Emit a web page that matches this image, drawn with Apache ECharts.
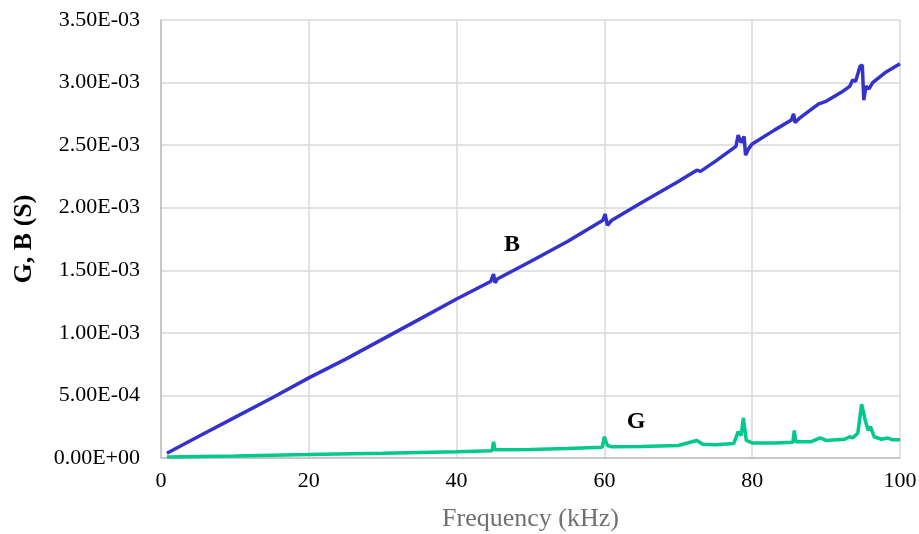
<!DOCTYPE html>
<html>
<head>
<meta charset="utf-8">
<script src="https://cdn.jsdelivr.net/npm/echarts@6/dist/echarts.min.js"></script>
<style>html,body{margin:0;padding:0;background:#fff;}#chart{width:919px;height:534px;}</style>
</head>
<body>
<div id="chart"></div>
<script>
// Frequency (kHz) and susceptance B (S)
var bFreq = [0.8, 5, 10, 15, 20, 22, 25, 30, 35, 40, 44.6, 45, 45.2, 45.5, 50, 55, 59.8, 60.1, 60.4, 61, 65, 70, 72.5, 73, 75, 77.8, 78.1, 78.5, 78.9, 79.1, 79.5, 80, 83, 85.3, 85.6, 85.8, 86.5, 89, 90, 92, 93.2, 93.6, 94, 94.6, 94.9, 95.1, 95.4, 95.8, 96.3, 98, 100];
var bVals = [3.8e-5, 1.7e-4, 3.25e-4, 4.8e-4, 6.4e-4, 7.0e-4, 7.9e-4, 9.5e-4, 1.11e-3, 1.27e-3, 1.41e-3, 1.47e-3, 1.40e-3, 1.43e-3, 1.57e-3, 1.73e-3, 1.90e-3, 1.95e-3, 1.86e-3, 1.90e-3, 2.04e-3, 2.21e-3, 2.30e-3, 2.29e-3, 2.37e-3, 2.49e-3, 2.58e-3, 2.52e-3, 2.57e-3, 2.42e-3, 2.47e-3, 2.51e-3, 2.62e-3, 2.70e-3, 2.75e-3, 2.68e-3, 2.72e-3, 2.83e-3, 2.85e-3, 2.92e-3, 2.97e-3, 3.02e-3, 3.01e-3, 3.13e-3, 3.14e-3, 2.86e-3, 2.97e-3, 2.95e-3, 3.00e-3, 3.08e-3, 3.15e-3];
// Frequency (kHz) and conductance G (S)
var gFreq = [0.8, 10, 20, 22, 30, 40, 44.8, 45, 45.2, 50, 55, 59.7, 60, 60.4, 61, 65, 70, 72.5, 73.3, 75, 77.5, 78.1, 78.5, 78.8, 79.2, 80, 83, 85.5, 85.7, 85.9, 88, 89.2, 90, 92.5, 93.2, 93.6, 94.3, 94.8, 95.3, 95.7, 96, 96.5, 97.5, 98.3, 99, 100];
var gVals = [8e-6, 1.6e-5, 2.7e-5, 3.0e-5, 3.7e-5, 5.0e-5, 5.8e-5, 1.3e-4, 6.5e-5, 6.8e-5, 7.5e-5, 8.5e-5, 1.7e-4, 1.0e-4, 9.0e-5, 9.2e-5, 1.0e-4, 1.4e-4, 1.1e-4, 1.05e-4, 1.15e-4, 2.1e-4, 1.8e-4, 3.2e-4, 1.4e-4, 1.2e-4, 1.2e-4, 1.25e-4, 2.2e-4, 1.3e-4, 1.3e-4, 1.6e-4, 1.4e-4, 1.5e-4, 1.7e-4, 1.6e-4, 2.0e-4, 4.3e-4, 3.0e-4, 2.2e-4, 2.5e-4, 1.7e-4, 1.5e-4, 1.6e-4, 1.45e-4, 1.45e-4];
var xTicks = [0, 20, 40, 60, 80, 100];
var yTickLabels = ['0.00E+00', '5.00E-04', '1.00E-03', '1.50E-03', '2.00E-03', '2.50E-03', '3.00E-03', '3.50E-03'];
var seriesNames = ['B', 'G'];

function pairs(xs, ys) { return xs.map(function (x, i) { return [x, ys[i]]; }); }

var chart = echarts.init(document.getElementById('chart'), null, { renderer: 'canvas' });
var font = '"Liberation Serif", "Times New Roman", serif';
chart.setOption({
  animation: false,
  backgroundColor: '#ffffff',
  grid: { left: 161, right: 19, top: 20, bottom: 76, containLabel: false, outerBoundsMode: 'none' },
  xAxis: {
    type: 'value', min: 0, max: 100, interval: 20,
    name: 'Frequency (kHz)', nameLocation: 'middle', nameGap: 48,
    nameTextStyle: { fontFamily: font, fontSize: 26, color: '#707070' },
    axisLine: { show: true, lineStyle: { color: '#bfbfbf', width: 1.5 } },
    axisTick: { show: false },
    axisLabel: { fontFamily: font, fontSize: 22, color: '#000', margin: 12,
      formatter: function (v) { return xTicks.indexOf(v) >= 0 ? String(v) : ''; } },
    splitLine: { show: true, lineStyle: { color: '#d9d9d9', width: 1.5 } }
  },
  yAxis: {
    type: 'value', min: 0, max: 3.5e-3, interval: 5e-4,
    name: 'G, B (S)', nameLocation: 'middle', nameGap: 124, nameRotate: 90,
    nameTextStyle: { fontFamily: font, fontSize: 26, fontWeight: 'bold', color: '#000' },
    axisLine: { show: true, lineStyle: { color: '#bfbfbf', width: 1.5 } },
    axisTick: { show: false },
    axisLabel: { fontFamily: font, fontSize: 22, color: '#000', margin: 21,
      formatter: function (v) { return yTickLabels[Math.round(v / 5e-4)]; } },
    splitLine: { show: true, lineStyle: { color: '#d9d9d9', width: 1.5 } }
  },
  series: [
    {
      name: seriesNames[0], type: 'line', data: pairs(bFreq, bVals), showSymbol: false,
      lineStyle: { color: '#3333cc', width: 3.5 }, z: 3,
      markPoint: { symbol: 'rect', symbolSize: 1, itemStyle: { color: 'rgba(0,0,0,0)' },
        label: { show: true, formatter: 'B', fontFamily: font, fontSize: 24, fontWeight: 'bold', color: '#000' },
        data: [{ coord: [47.5, 1.7e-3] }] }
    },
    {
      name: seriesNames[1], type: 'line', data: pairs(gFreq, gVals), showSymbol: false,
      lineStyle: { color: '#00c98d', width: 3.5 }, z: 2,
      markPoint: { symbol: 'rect', symbolSize: 1, itemStyle: { color: 'rgba(0,0,0,0)' },
        label: { show: true, formatter: 'G', fontFamily: font, fontSize: 24, fontWeight: 'bold', color: '#000' },
        data: [{ coord: [64.3, 2.9e-4] }] }
    }
  ]
});
</script>
</body>
</html>
